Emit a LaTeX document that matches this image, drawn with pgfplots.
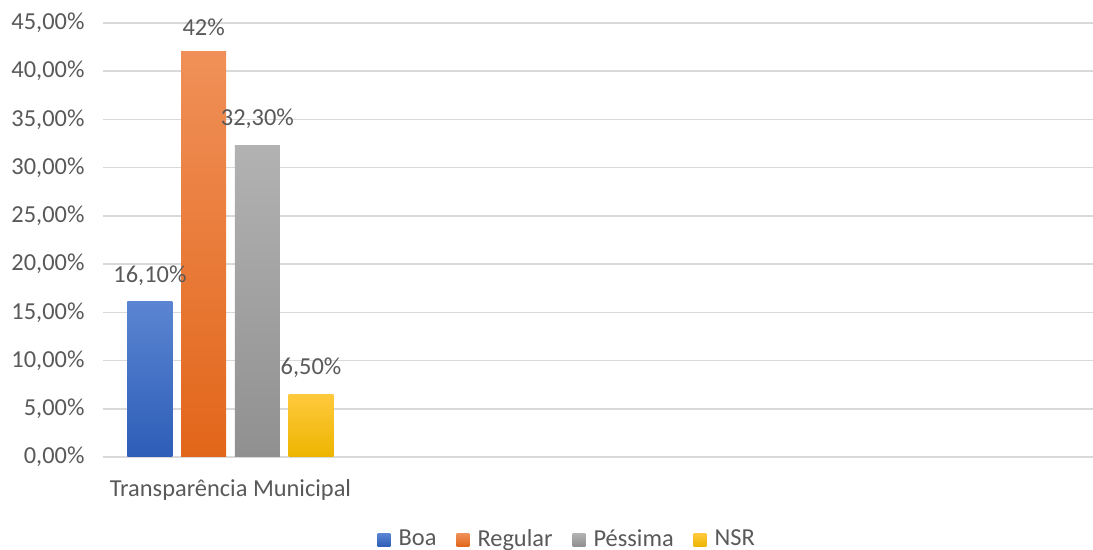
\documentclass[border=0pt]{standalone}
\usepackage{pgfplots}
\pgfplotsset{compat=1.18}
\usepackage{fontspec}
\setmainfont{Carlito}

\definecolor{txtgray}{HTML}{595959}
\definecolor{gridgray}{HTML}{D9D9D9}
\definecolor{boaTop}{HTML}{5B85D2}
\definecolor{boaBot}{HTML}{2D5DB7}
\definecolor{regTop}{HTML}{F09058}
\definecolor{regBot}{HTML}{E2661A}
\definecolor{pesTop}{HTML}{B2B2B2}
\definecolor{pesBot}{HTML}{909090}
\definecolor{nsrTop}{HTML}{FFC93C}
\definecolor{nsrBot}{HTML}{EDB500}

\begin{document}
\begin{tikzpicture}
\fontsize{12.2}{14}\selectfont
\begin{axis}[
  at={(0,0)}, anchor=south west,
  scale only axis,
  width=495pt, height=217pt,
  xmin=0, xmax=990,
  ymin=0, ymax=45,
  ytick={0,5,...,45},
  xtick={127.5},
  xticklabels={Transparência Municipal},
  yticklabel={\pgfmathprintnumber[fixed,fixed zerofill,precision=2,use comma,assume math mode=true]{\tick}\%},
  ymajorgrids,
  grid style={gridgray, line width=0.8pt},
  axis x line*=bottom,
  axis y line*=left,
  x axis line style={gridgray, line width=0.8pt, -},
  y axis line style={draw=none},
  major tick length=0pt,
  tick style={draw=none},
  ticklabel style={text=txtgray, font=\fontsize{12.2}{14}\selectfont},
  yticklabel style={xshift=-5pt},
  xticklabel style={yshift=-7pt},
  point meta=explicit symbolic,
  nodes near coords,
  every node near coord/.append style={text=txtgray, font=\fontsize{12.2}{14}\selectfont, anchor=south, yshift=4pt},
  legend style={at={(0.47,-0.191)}, anchor=center, draw=none, fill=none,
    legend columns=4, font=\fontsize{12.2}{14}\selectfont, text=txtgray,
    /tikz/every even column/.append style={column sep=8pt}},
  legend image code/.code={\fill[#1] (0pt,-3.2pt) rectangle (6.4pt,3.2pt); \path (8.5pt,0pt);},
]
\addplot[ybar, bar width=22.5pt, bar shift=0pt, draw=none, top color=boaTop, bottom color=boaBot]
  coordinates {(47,16.1) [16,10\%]};
\addplot[ybar, bar width=22.5pt, bar shift=0pt, draw=none, top color=regTop, bottom color=regBot]
  coordinates {(100.7,42) [42\%]};
\addplot[ybar, bar width=22.5pt, bar shift=0pt, draw=none, top color=pesTop, bottom color=pesBot]
  coordinates {(154.4,32.3) [32,30\%]};
\addplot[ybar, bar width=22.5pt, bar shift=0pt, draw=none, top color=nsrTop, bottom color=nsrBot]
  coordinates {(208,6.5) [6,50\%]};
\legend{Boa, Regular, Péssima, NSR}
\end{axis}
\pgfresetboundingbox
\path[use as bounding box] (-51.5pt,-46.5pt) rectangle (495pt,228.5pt);
\end{tikzpicture}
\end{document}
